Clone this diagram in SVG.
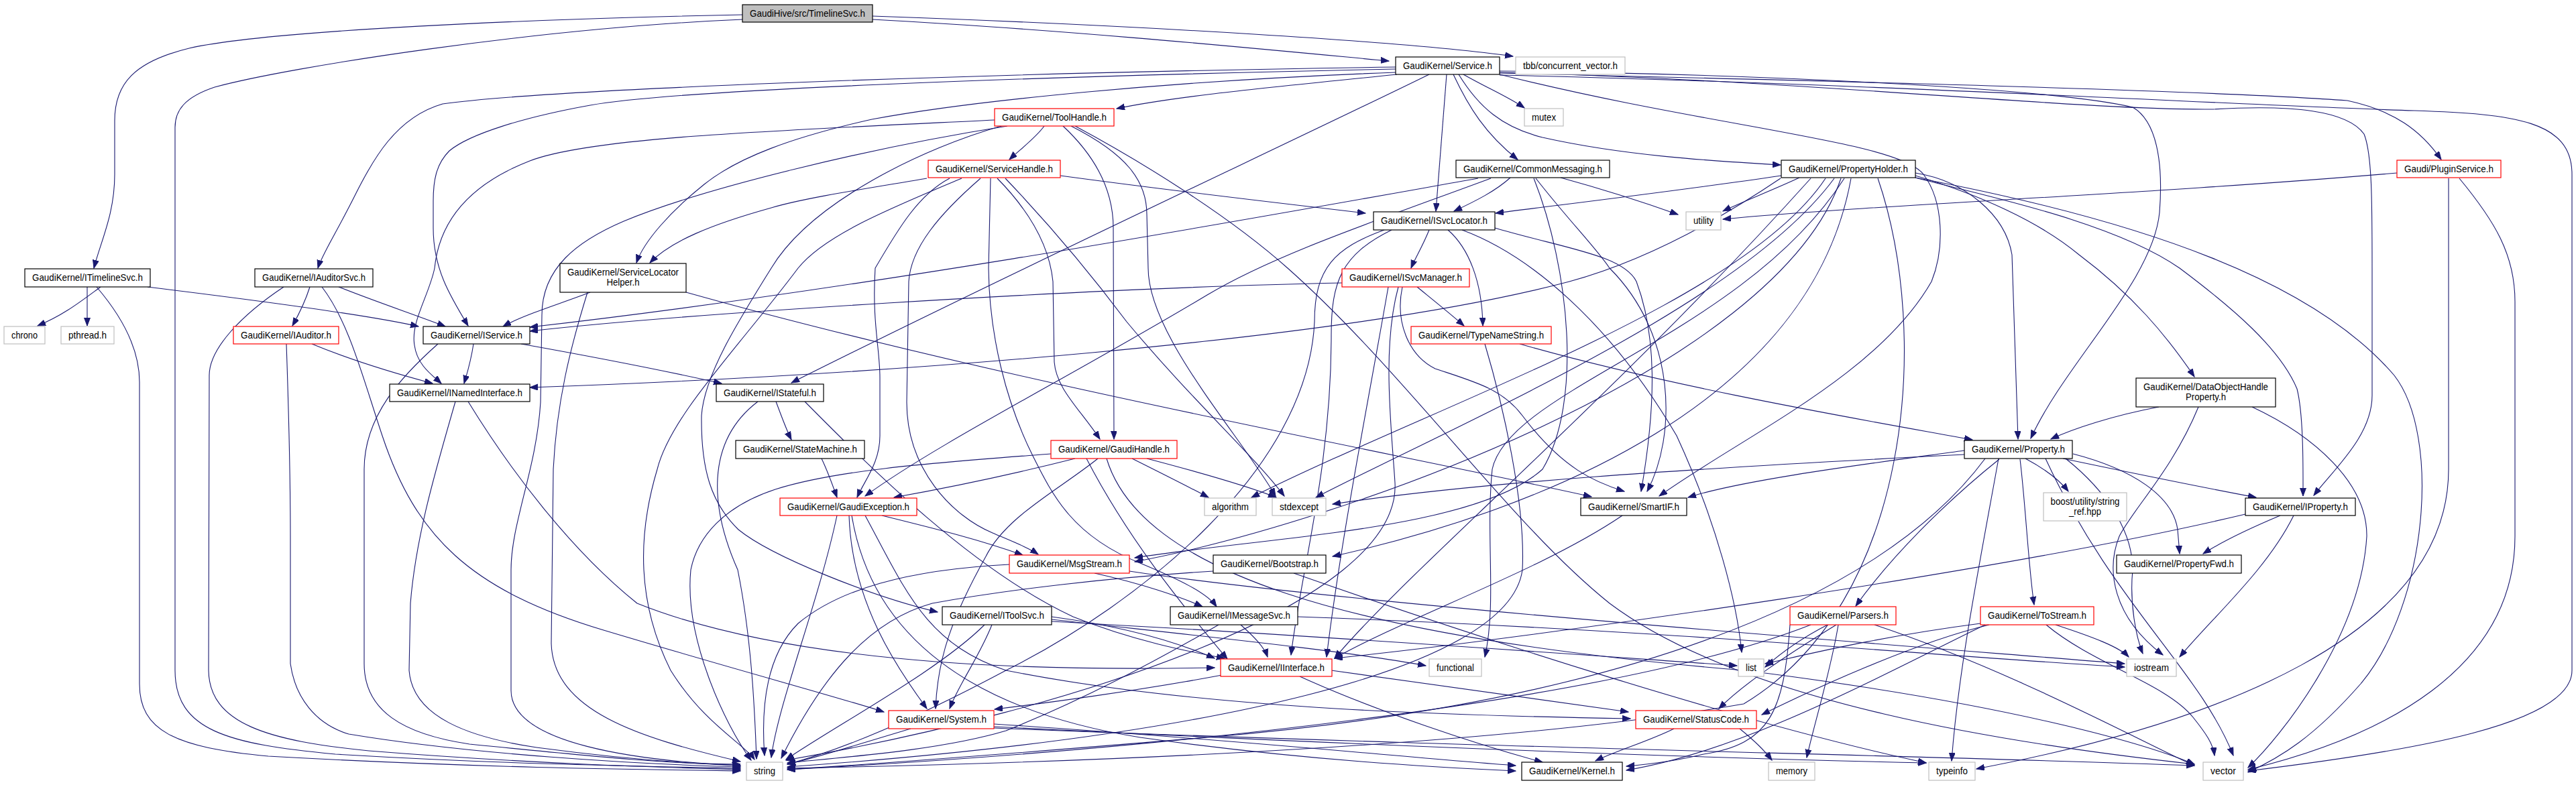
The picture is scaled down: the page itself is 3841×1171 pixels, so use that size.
<svg xmlns="http://www.w3.org/2000/svg" width="3841" height="1171" viewBox="0 0 3841 1171">
<defs>
<marker id="ah" markerWidth="13" markerHeight="10" refX="12" refY="4.5" orient="auto" markerUnits="userSpaceOnUse">
<path d="M0,0 L12,4.5 L0,9 z" fill="#191970" stroke="#191970" stroke-width="1"/>
</marker>
</defs>
<style>
.e path{fill:none;stroke:#191970;stroke-width:1.1;marker-end:url(#ah)}
.n rect{fill:#fff;stroke:#000;stroke-width:1.2}
.r rect{fill:#fff;stroke:#f00;stroke-width:1.2}
.g rect{fill:#fff;stroke:#bfbfbf;stroke-width:1.2}
.root rect{fill:#bfbfbf;stroke:#000;stroke-width:1.2}
text{font-family:"Liberation Sans",Arial,Helvetica,sans-serif;font-size:15px;fill:#000;text-anchor:middle}
</style>
<rect width="3841" height="1171" fill="#fff"/>
<g id="edges" class="e">
<path d="M1107,22 C800,28 400,45 282,72 C200,92 171,125 171,180 L171,260 C171,320 150,360 140,400"/>
<path d="M1107,29 C800,42 430,100 320,130 C275,145 261,165 261,190 L261,1000 C261,1090 340,1110 500,1125 C750,1140 950,1143 1104,1146"/>
<path d="M1301,29 C1600,45 1900,75 2071,91"/>
<path d="M1301,24 C1700,38 2100,62 2256,84"/>
<path d="M2081,100 C1400,110 800,135 660,155 C590,175 555,240 530,290 C500,350 480,380 474,400"/>
<path d="M2081,103 C1500,115 1000,135 880,157 C780,175 700,200 670,225 C650,245 646,270 646,300 L646,340 C646,400 670,440 698,486"/>
<path d="M2081,108 C1750,120 1450,150 1300,178 C1180,205 1100,235 1050,275 C1000,315 960,360 949,392"/>
<path d="M2083,111 C1920,128 1760,142 1665,162"/>
<path d="M2131,111 C1950,200 1500,410 1180,571"/>
<path d="M2157,111 L2141,315"/>
<path d="M2167,111 C2190,160 2215,200 2263,238"/>
<path d="M2182,111 C2215,130 2250,145 2273,161"/>
<path d="M2175,111 C2205,160 2240,190 2300,205 C2420,232 2550,240 2655,246"/>
<path d="M2236,111 C2550,190 2830,210 2868,260 C2898,300 2900,370 2880,420 C2800,560 2600,650 2474,740"/>
<path d="M2236,106 C2600,110 3050,130 3180,160 C3215,180 3226,240 3220,317 C3210,420 3080,540 3028,654"/>
<path d="M2236,108 C2700,120 3100,165 3300,163 C3420,156 3500,165 3525,200 C3537,230 3537,300 3537,400 L3537,590 C3537,650 3480,700 3450,739"/>
<path d="M2236,109 C2700,120 3300,135 3500,150 C3570,165 3610,195 3640,238"/>
<path d="M2236,112 C2800,125 3400,160 3600,165 C3750,170 3835,180 3835,260 L3835,1000 C3835,1080 3600,1120 3352,1150"/>
<path d="M1557,188 C1545,205 1522,222 1505,238"/>
<path d="M1483,179 C1150,195 880,205 790,240 C700,275 655,330 648,400 C640,440 612,480 618,515 C622,545 645,560 658,572"/>
<path d="M1502,188 C1300,220 1050,280 930,330 C860,360 808,400 808,470 L806,600 C800,700 762,780 762,850 L762,1030 C762,1110 950,1135 1104,1142"/>
<path d="M1585,188 C1630,230 1660,280 1660,340 L1661,655"/>
<path d="M1597,188 C1680,230 1710,270 1710,320 L1712,400 C1712,500 1850,650 1902,740"/>
<path d="M1493,188 C1380,220 1210,300 1150,400 C1100,480 1050,560 1046,620 C1045,700 1060,750 1101,790 C1150,830 1300,890 1398,913"/>
<path d="M1603,188 C1700,240 1830,320 1920,400 C2100,560 2250,780 2400,900 C2600,1050 3000,1110 3272,1140"/>
<path d="M1382,266 C1300,280 1200,295 1150,310 C1060,335 1000,360 969,392"/>
<path d="M1581,262 C1750,285 1950,308 2036,318"/>
<path d="M1416,266 C1370,290 1340,340 1305,400 C1300,480 1312,520 1312,563 L1312,650 C1312,690 1290,715 1278,742"/>
<path d="M1487,266 C1540,320 1565,370 1570,420 L1572,540 C1575,580 1610,610 1640,655"/>
<path d="M1434,266 C1330,310 1230,350 1190,400 C1100,520 1000,620 980,700 C950,800 950,900 1000,1000 C1050,1080 1110,1110 1125,1133"/>
<path d="M1462,266 C1400,320 1358,370 1355,420 L1352,600 C1352,700 1420,770 1480,795 C1515,810 1535,818 1548,827"/>
<path d="M1477,266 L1474,400 C1475,500 1500,600 1540,680 C1570,740 1600,800 1700,840 C1760,865 1800,885 1814,905"/>
<path d="M1499,266 C1560,330 1620,400 1680,480 C1780,600 1870,680 1915,740"/>
<path d="M2252,265 C2230,285 2200,300 2168,315"/>
<path d="M2327,265 C2400,285 2460,305 2502,320"/>
<path d="M2204,266 C1900,320 1300,430 790,488"/>
<path d="M2223,266 C2050,330 1900,380 1800,440 C1600,560 1400,660 1290,740"/>
<path d="M2290,266 C2340,330 2380,370 2400,400 C2500,500 2500,650 2456,733"/>
<path d="M2287,266 C2340,400 2360,600 2300,700 C2200,790 1900,800 1692,832"/>
<path d="M2656,262 C2500,285 2330,305 2230,318"/>
<path d="M2683,265 C2640,285 2600,300 2569,315"/>
<path d="M2655,266 C2560,330 2450,390 2340,420 C2000,510 1300,560 790,578"/>
<path d="M2856,262 C2950,290 3040,330 3100,380 C3180,440 3230,500 3272,562"/>
<path d="M2856,258 C2930,270 2990,320 3000,380 L3009,655"/>
<path d="M2722,266 C2600,450 2150,600 1866,742"/>
<path d="M2735,266 C2600,450 2200,620 1962,742"/>
<path d="M2745,266 C2650,550 2000,780 1692,838"/>
<path d="M2760,266 C2700,600 2300,760 1987,830"/>
<path d="M2856,265 C2950,290 3150,330 3250,400 C3330,460 3400,520 3425,580 C3435,620 3434,700 3434,740"/>
<path d="M2750,266 C2600,500 2250,580 2225,700 C2215,800 2232,900 2214,980"/>
<path d="M2800,266 C2880,500 2850,900 2600,1050 C2200,1120 1500,1140 1174,1146"/>
<path d="M2856,265 C3200,330 3450,420 3570,560 C3640,650 3620,900 3520,1020 C3450,1100 3400,1130 3352,1152"/>
<path d="M2700,266 C2400,600 2100,850 1990,982"/>
<path d="M3574,258 C3200,290 2800,305 2569,327"/>
<path d="M3651,266 L3651,700 C3651,950 3300,1080 2947,1147"/>
<path d="M3667,266 C3720,330 3750,380 3750,450 L3750,800 C3750,1000 3550,1100 3352,1148"/>
<path d="M2131,343 C2120,370 2110,385 2104,400"/>
<path d="M2159,343 C2190,370 2210,420 2211,486"/>
<path d="M2229,340 C2330,370 2420,380 2440,420 C2470,500 2470,600 2447,733"/>
<path d="M2064,343 C1990,370 1960,400 1960,480 C1950,700 1700,900 1500,1000 C1350,1080 1250,1120 1174,1140"/>
<path d="M2075,343 C2000,380 1985,420 1985,500 C1985,700 1940,850 1925,977"/>
<path d="M2180,343 C2280,380 2400,480 2500,650 C2560,780 2590,900 2597,973"/>
<path d="M150,428 C120,450 95,470 56,486"/>
<path d="M130,428 L130,486"/>
<path d="M220,428 C400,450 550,470 624,487"/>
<path d="M144,428 C180,470 208,520 208,570 L208,1020 C208,1090 260,1115 400,1128 C700,1145 950,1148 1104,1150"/>
<path d="M462,428 C455,450 445,470 436,486"/>
<path d="M505,428 C560,450 620,470 664,487"/>
<path d="M423,428 C360,470 312,520 312,560 L311,1000 C312,1080 400,1105 550,1120 C800,1140 1000,1145 1104,1148"/>
<path d="M480,428 C520,480 540,560 570,650 C620,800 700,880 900,940 C1100,1000 1250,1040 1318,1062"/>
<path d="M465,513 C530,540 600,560 645,572"/>
<path d="M427,513 C430,600 433,700 433,800 L433,990 C440,1040 470,1080 520,1095 C700,1125 950,1140 1104,1144"/>
<path d="M706,513 C702,540 697,555 692,572"/>
<path d="M777,513 C900,535 1000,555 1076,572"/>
<path d="M653,513 C600,560 543,620 543,700 L543,990 C543,1060 600,1095 700,1110 C900,1130 1000,1140 1104,1140"/>
<path d="M2001,422 C1600,430 1000,470 790,494"/>
<path d="M2113,428 C2140,450 2165,470 2183,486"/>
<path d="M2091,428 C2080,480 2100,530 2140,550 C2200,570 2240,580 2270,620 C2330,700 2380,720 2422,733"/>
<path d="M2085,428 C2060,520 2075,640 2080,720 C2090,900 1600,1060 1172,1134"/>
<path d="M2070,428 C2040,600 2000,800 1978,980"/>
<path d="M2266,513 C2500,580 2800,630 2941,656"/>
<path d="M2214,513 C2240,600 2275,750 2270,850 C2250,1000 1800,1100 1174,1144"/>
<path d="M679,599 C650,700 620,800 612,900 L610,1000 C615,1070 700,1100 800,1115 C950,1135 1050,1140 1104,1142"/>
<path d="M698,599 C760,700 850,820 950,900 C1200,1000 1600,1000 1811,996"/>
<path d="M1157,599 C1165,620 1172,640 1180,656"/>
<path d="M1200,599 C1300,700 1450,850 1600,920 C1700,960 1790,975 1826,982"/>
<path d="M1130,599 C1050,660 1060,760 1100,850 C1120,950 1125,1050 1128,1132"/>
<path d="M3219,607 C3150,620 3090,640 3058,655"/>
<path d="M3278,607 C3240,700 3180,760 3160,800 C3140,850 3150,920 3225,977"/>
<path d="M3358,607 C3450,650 3530,720 3529,800 C3520,950 3400,1100 3352,1145"/>
<path d="M1225,684 C1235,705 1242,725 1248,742"/>
<path d="M1603,684 C1500,710 1400,730 1333,742"/>
<path d="M1688,684 C1730,705 1770,725 1802,742"/>
<path d="M1710,684 C1790,705 1860,725 1903,742"/>
<path d="M1637,684 C1580,730 1500,770 1470,830 C1420,920 1398,980 1395,1057"/>
<path d="M1567,677 C1400,690 1250,700 1156,730 C1080,755 1040,800 1030,850 C1020,950 1080,1080 1120,1134"/>
<path d="M1650,684 C1700,850 2000,950 2600,1000 C3000,1050 3200,1110 3272,1140"/>
<path d="M1620,684 C1680,800 1760,900 1830,983"/>
<path d="M2929,678 C2500,700 2200,720 1987,752"/>
<path d="M2929,672 C2800,690 2600,715 2517,742"/>
<path d="M3020,684 C3050,700 3070,715 3084,733"/>
<path d="M3076,684 C3200,710 3300,730 3364,742"/>
<path d="M3091,677 C3180,700 3240,740 3247,790 L3250,826"/>
<path d="M2981,685 C2900,750 2820,830 2767,904"/>
<path d="M3012,685 C3020,750 3025,850 3033,902"/>
<path d="M3080,684 C3150,740 3180,800 3180,850 C3175,900 3185,950 3195,975"/>
<path d="M2960,684 C2800,900 2400,1050 1800,1100 C1500,1125 1300,1140 1174,1148"/>
<path d="M2980,684 C2950,850 2920,1000 2910,1135"/>
<path d="M3050,684 C3150,900 3280,1000 3330,1127"/>
<path d="M3400,769 C3350,790 3310,810 3285,826"/>
<path d="M3348,767 C3000,850 2300,950 1990,982"/>
<path d="M3420,769 C3380,850 3300,920 3250,980"/>
<path d="M1505,842 C1350,850 1250,880 1190,930 C1140,980 1135,1060 1140,1127"/>
<path d="M1632,855 C1700,870 1760,890 1793,905"/>
<path d="M1684,852 C2000,900 2800,960 3168,990"/>
<path d="M1809,852 C1650,862 1500,880 1390,900 C1300,925 1230,1000 1165,1131"/>
<path d="M1929,855 C2200,950 2600,1080 2872,1138"/>
<path d="M1468,932 C1400,1000 1250,1080 1172,1133"/>
<path d="M1479,932 C1460,980 1430,1020 1416,1057"/>
<path d="M1568,920 C1680,935 1760,960 1811,982"/>
<path d="M1568,924 C1800,950 2000,970 2126,993"/>
<path d="M1568,927 C2000,950 2400,980 2590,993"/>
<path d="M1817,932 C1700,1000 1600,1050 1500,1090 C1400,1120 1250,1130 1174,1138"/>
<path d="M1850,932 C1870,950 1885,965 1890,980"/>
<path d="M1935,920 C2500,940 2900,980 3168,995"/>
<path d="M2738,932 C2660,980 2600,1020 2563,1057"/>
<path d="M2725,932 C2690,950 2660,970 2632,995"/>
<path d="M2700,932 C2400,1050 1700,1120 1174,1148"/>
<path d="M2795,932 C3000,1000 3200,1110 3272,1142"/>
<path d="M2741,932 C2730,1000 2705,1080 2694,1130"/>
<path d="M2669,932 C2660,1060 2640,1110 2540,1125 C2500,1135 2460,1140 2425,1143"/>
<path d="M3065,932 C3120,950 3160,965 3174,980"/>
<path d="M2953,930 C2800,950 2700,975 2632,990"/>
<path d="M2966,932 C2850,960 2700,1030 2627,1066"/>
<path d="M3051,932 C3120,990 3230,1020 3270,1070 C3290,1095 3300,1110 3302,1127"/>
<path d="M2960,932 C2800,1010 2600,1120 2425,1149"/>
<path d="M1822,1007 C1700,1030 1550,1050 1483,1058"/>
<path d="M1938,1009 C2050,1060 2200,1110 2300,1137"/>
<path d="M1985,1000 C2200,1030 2350,1050 2428,1062"/>
<path d="M1358,1087 C1280,1110 1220,1130 1174,1140"/>
<path d="M1482,1080 C1800,1100 2100,1130 2260,1142"/>
<path d="M1482,1084 C2000,1110 2500,1130 2872,1138"/>
<path d="M1482,1086 C2200,1115 2800,1125 3272,1142"/>
<path d="M1315,769 C1400,790 1460,805 1525,828"/>
<path d="M1266,769 C1270,900 1340,1000 1382,1057"/>
<path d="M1248,769 C1220,900 1160,1050 1150,1130"/>
<path d="M1290,769 C1350,880 1380,960 1500,1000 C1800,1060 2200,1068 2431,1072"/>
<path d="M1270,769 C1300,950 1450,1060 1700,1100 C1950,1135 2150,1145 2260,1150"/>
<path d="M2496,1087 C2460,1105 2410,1120 2379,1135"/>
<path d="M2594,1087 C2610,1100 2630,1118 2642,1134"/>
<path d="M2419,769 C2300,850 2100,920 1990,982"/>
<path d="M880,436 C830,455 780,470 750,487"/>
<path d="M1023,436 C1500,570 2100,680 2373,741"/>
<path d="M876,436 C850,520 830,600 825,700 L822,960 C825,1060 950,1100 1104,1136"/>
</g>
<g id="n-timelinesvc" class="root"><rect x="1107" y="7" width="194" height="26"/><text x="1204" y="24.5" textLength="172" lengthAdjust="spacingAndGlyphs">GaudiHive/src/TimelineSvc.h</text></g>
<g id="n-service" class="n"><rect x="2081" y="85" width="155" height="26"/><text x="2158.5" y="102.5" textLength="133" lengthAdjust="spacingAndGlyphs">GaudiKernel/Service.h</text></g>
<g id="n-tbb" class="g"><rect x="2260" y="85" width="163" height="26"/><text x="2341.5" y="102.5" textLength="141" lengthAdjust="spacingAndGlyphs">tbb/concurrent_vector.h</text></g>
<g id="n-mutex" class="g"><rect x="2273" y="162" width="58" height="26"/><text x="2302" y="179.5" textLength="36" lengthAdjust="spacingAndGlyphs">mutex</text></g>
<g id="n-toolhandle" class="r"><rect x="1483" y="162" width="178" height="26"/><text x="1572" y="179.5" textLength="156" lengthAdjust="spacingAndGlyphs">GaudiKernel/ToolHandle.h</text></g>
<g id="n-servicehandle" class="r"><rect x="1384" y="239" width="197" height="26"/><text x="1482.5" y="256.5" textLength="175" lengthAdjust="spacingAndGlyphs">GaudiKernel/ServiceHandle.h</text></g>
<g id="n-commonmessaging" class="n"><rect x="2171" y="239" width="229" height="26"/><text x="2285.5" y="256.5" textLength="207" lengthAdjust="spacingAndGlyphs">GaudiKernel/CommonMessaging.h</text></g>
<g id="n-propertyholder" class="n"><rect x="2656" y="239" width="200" height="26"/><text x="2756" y="256.5" textLength="178" lengthAdjust="spacingAndGlyphs">GaudiKernel/PropertyHolder.h</text></g>
<g id="n-pluginservice" class="r"><rect x="3574" y="239" width="155" height="26"/><text x="3651.5" y="256.5" textLength="133" lengthAdjust="spacingAndGlyphs">Gaudi/PluginService.h</text></g>
<g id="n-isvclocator" class="n"><rect x="2048" y="316" width="181" height="27"/><text x="2138.5" y="334" textLength="159" lengthAdjust="spacingAndGlyphs">GaudiKernel/ISvcLocator.h</text></g>
<g id="n-utility" class="g"><rect x="2514" y="316" width="52" height="27"/><text x="2540" y="334" textLength="30" lengthAdjust="spacingAndGlyphs">utility</text></g>
<g id="n-itimelinesvc" class="n"><rect x="37" y="401" width="187" height="27"/><text x="130.5" y="419" textLength="165" lengthAdjust="spacingAndGlyphs">GaudiKernel/ITimelineSvc.h</text></g>
<g id="n-iauditorsvc" class="n"><rect x="380" y="401" width="176" height="27"/><text x="468" y="419" textLength="154" lengthAdjust="spacingAndGlyphs">GaudiKernel/IAuditorSvc.h</text></g>
<g id="n-servicelocatorhelper" class="n"><rect x="835" y="393" width="188" height="43"/><text x="929" y="411" textLength="166" lengthAdjust="spacingAndGlyphs">GaudiKernel/ServiceLocator</text><text x="929" y="426" textLength="49" lengthAdjust="spacingAndGlyphs">Helper.h</text></g>
<g id="n-isvcmanager" class="r"><rect x="2001" y="401" width="190" height="27"/><text x="2096" y="419" textLength="168" lengthAdjust="spacingAndGlyphs">GaudiKernel/ISvcManager.h</text></g>
<g id="n-chrono" class="g"><rect x="6" y="487" width="61" height="26"/><text x="36.5" y="504.5" textLength="39" lengthAdjust="spacingAndGlyphs">chrono</text></g>
<g id="n-pthread" class="g"><rect x="91" y="487" width="79" height="26"/><text x="130.5" y="504.5" textLength="57" lengthAdjust="spacingAndGlyphs">pthread.h</text></g>
<g id="n-iauditor" class="r"><rect x="348" y="487" width="157" height="26"/><text x="426.5" y="504.5" textLength="135" lengthAdjust="spacingAndGlyphs">GaudiKernel/IAuditor.h</text></g>
<g id="n-iservice" class="n"><rect x="631" y="487" width="159" height="26"/><text x="710.5" y="504.5" textLength="137" lengthAdjust="spacingAndGlyphs">GaudiKernel/IService.h</text></g>
<g id="n-typenamestring" class="r"><rect x="2104" y="487" width="209" height="26"/><text x="2208.5" y="504.5" textLength="187" lengthAdjust="spacingAndGlyphs">GaudiKernel/TypeNameString.h</text></g>
<g id="n-inamedinterface" class="n"><rect x="581" y="573" width="209" height="26"/><text x="685.5" y="590.5" textLength="187" lengthAdjust="spacingAndGlyphs">GaudiKernel/INamedInterface.h</text></g>
<g id="n-istateful" class="n"><rect x="1068" y="573" width="160" height="26"/><text x="1148" y="590.5" textLength="138" lengthAdjust="spacingAndGlyphs">GaudiKernel/IStateful.h</text></g>
<g id="n-dataobjecthandleproperty" class="n"><rect x="3185" y="564" width="208" height="43"/><text x="3289" y="582" textLength="186" lengthAdjust="spacingAndGlyphs">GaudiKernel/DataObjectHandle</text><text x="3289" y="597" textLength="60" lengthAdjust="spacingAndGlyphs">Property.h</text></g>
<g id="n-statemachine" class="n"><rect x="1097" y="657" width="192" height="27"/><text x="1193" y="675" textLength="170" lengthAdjust="spacingAndGlyphs">GaudiKernel/StateMachine.h</text></g>
<g id="n-gaudihandle" class="r"><rect x="1567" y="657" width="188" height="27"/><text x="1661" y="675" textLength="166" lengthAdjust="spacingAndGlyphs">GaudiKernel/GaudiHandle.h</text></g>
<g id="n-property" class="n"><rect x="2929" y="657" width="161" height="27"/><text x="3009.5" y="675" textLength="139" lengthAdjust="spacingAndGlyphs">GaudiKernel/Property.h</text></g>
<g id="n-gaudiexception" class="r"><rect x="1163" y="743" width="204" height="26"/><text x="1265" y="760.5" textLength="182" lengthAdjust="spacingAndGlyphs">GaudiKernel/GaudiException.h</text></g>
<g id="n-algorithm" class="g"><rect x="1796" y="743" width="77" height="26"/><text x="1834.5" y="760.5" textLength="55" lengthAdjust="spacingAndGlyphs">algorithm</text></g>
<g id="n-stdexcept" class="g"><rect x="1897" y="743" width="80" height="26"/><text x="1937" y="760.5" textLength="58" lengthAdjust="spacingAndGlyphs">stdexcept</text></g>
<g id="n-smartif" class="n"><rect x="2357" y="743" width="158" height="26"/><text x="2436" y="760.5" textLength="136" lengthAdjust="spacingAndGlyphs">GaudiKernel/SmartIF.h</text></g>
<g id="n-stringref" class="g"><rect x="3047" y="735" width="124" height="42"/><text x="3109" y="753" textLength="103" lengthAdjust="spacingAndGlyphs">boost/utility/string</text><text x="3109" y="768" textLength="48" lengthAdjust="spacingAndGlyphs">_ref.hpp</text></g>
<g id="n-iproperty" class="n"><rect x="3348" y="743" width="164" height="26"/><text x="3430" y="760.5" textLength="142" lengthAdjust="spacingAndGlyphs">GaudiKernel/IProperty.h</text></g>
<g id="n-msgstream" class="r"><rect x="1505" y="828" width="179" height="27"/><text x="1594.5" y="846" textLength="157" lengthAdjust="spacingAndGlyphs">GaudiKernel/MsgStream.h</text></g>
<g id="n-bootstrap" class="n"><rect x="1809" y="828" width="168" height="27"/><text x="1893" y="846" textLength="146" lengthAdjust="spacingAndGlyphs">GaudiKernel/Bootstrap.h</text></g>
<g id="n-propertyfwd" class="n"><rect x="3156" y="828" width="186" height="27"/><text x="3249" y="846" textLength="164" lengthAdjust="spacingAndGlyphs">GaudiKernel/PropertyFwd.h</text></g>
<g id="n-itoolsvc" class="n"><rect x="1405" y="905" width="163" height="27"/><text x="1486.5" y="923" textLength="141" lengthAdjust="spacingAndGlyphs">GaudiKernel/IToolSvc.h</text></g>
<g id="n-imessagesvc" class="n"><rect x="1745" y="905" width="190" height="27"/><text x="1840" y="923" textLength="168" lengthAdjust="spacingAndGlyphs">GaudiKernel/IMessageSvc.h</text></g>
<g id="n-parsers" class="r"><rect x="2669" y="905" width="158" height="27"/><text x="2748" y="923" textLength="136" lengthAdjust="spacingAndGlyphs">GaudiKernel/Parsers.h</text></g>
<g id="n-tostream" class="r"><rect x="2953" y="905" width="169" height="27"/><text x="3037.5" y="923" textLength="147" lengthAdjust="spacingAndGlyphs">GaudiKernel/ToStream.h</text></g>
<g id="n-iinterface" class="r"><rect x="1820" y="983" width="166" height="26"/><text x="1903" y="1000.5" textLength="144" lengthAdjust="spacingAndGlyphs">GaudiKernel/IInterface.h</text></g>
<g id="n-functional" class="g"><rect x="2131" y="983" width="78" height="26"/><text x="2170" y="1000.5" textLength="56" lengthAdjust="spacingAndGlyphs">functional</text></g>
<g id="n-list" class="g"><rect x="2592" y="983" width="38" height="26"/><text x="2611" y="1000.5" textLength="16" lengthAdjust="spacingAndGlyphs">list</text></g>
<g id="n-iostream" class="g"><rect x="3171" y="983" width="74" height="26"/><text x="3208" y="1000.5" textLength="52" lengthAdjust="spacingAndGlyphs">iostream</text></g>
<g id="n-system" class="r"><rect x="1325" y="1060" width="157" height="27"/><text x="1403.5" y="1078" textLength="135" lengthAdjust="spacingAndGlyphs">GaudiKernel/System.h</text></g>
<g id="n-statuscode" class="r"><rect x="2439" y="1060" width="180" height="27"/><text x="2529" y="1078" textLength="158" lengthAdjust="spacingAndGlyphs">GaudiKernel/StatusCode.h</text></g>
<g id="n-string" class="g"><rect x="1113" y="1137" width="54" height="27"/><text x="1140" y="1155" textLength="32" lengthAdjust="spacingAndGlyphs">string</text></g>
<g id="n-kernel" class="n"><rect x="2269" y="1137" width="150" height="27"/><text x="2344" y="1155" textLength="128" lengthAdjust="spacingAndGlyphs">GaudiKernel/Kernel.h</text></g>
<g id="n-memory" class="g"><rect x="2637" y="1137" width="69" height="27"/><text x="2671.5" y="1155" textLength="47" lengthAdjust="spacingAndGlyphs">memory</text></g>
<g id="n-typeinfo" class="g"><rect x="2876" y="1137" width="69" height="27"/><text x="2910.5" y="1155" textLength="47" lengthAdjust="spacingAndGlyphs">typeinfo</text></g>
<g id="n-vector" class="g"><rect x="3285" y="1137" width="60" height="27"/><text x="3315" y="1155" textLength="38" lengthAdjust="spacingAndGlyphs">vector</text></g>
</svg>
